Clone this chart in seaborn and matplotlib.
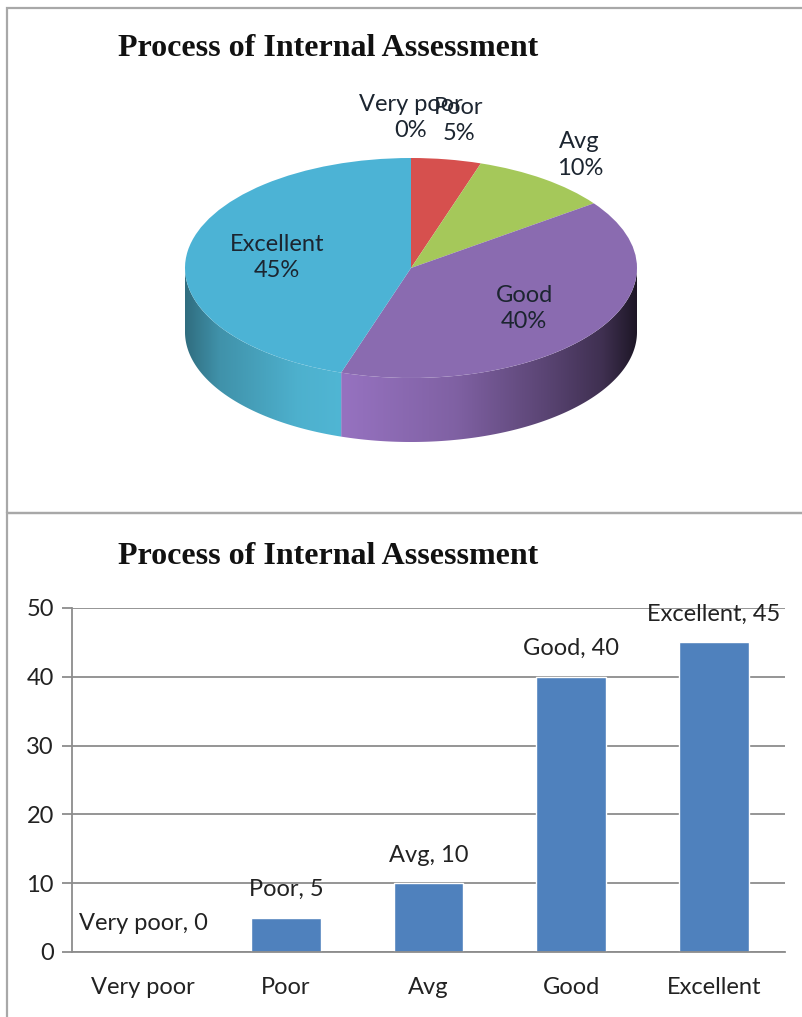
import numpy as np
import matplotlib
matplotlib.use("Agg")
import matplotlib.pyplot as plt
import seaborn as sns
from matplotlib.patches import Polygon, Rectangle

# data
categories = ["Very poor", "Poor", "Avg", "Good", "Excellent"]
values = [0, 5, 10, 40, 45]
pie_colors = ["#4F81BD", "#D6504E", "#A5C85A", "#8A6BB0", "#4CB3D5"]
wall_colors = ["#4F81BD", "#C04A48", "#94B552", "#9672C0", "#50B6D4"]
bar_color = "#4F81BD"
title = "Process of Internal Assessment"

sns.set_style("white")
plt.rcParams["font.family"] = ["Lato", "DejaVu Sans"]

W, H = 802, 1017
fig = plt.figure(figsize=(W / 100, H / 100), dpi=100)


def px_axes(x0, y0, x1, y1):
    return fig.add_axes([x0 / W, 1 - y1 / H, (x1 - x0) / W, (y1 - y0) / H])


# panel frames
fig.add_artist(Rectangle((7 / W, 1 - 513 / H), 1.2, (513 - 8) / H, transform=fig.transFigure,
                         fill=False, edgecolor="#a8a8a8", lw=1.6))
fig.add_artist(Rectangle((7 / W, -0.2), 1.2, 0.2 + (H - 513) / H, transform=fig.transFigure,
                         fill=False, edgecolor="#a8a8a8", lw=1.6))

for ty in (56, 564):
    fig.text(118 / W, 1 - ty / H, title, family="Liberation Serif", weight="bold",
             fontsize=23, va="baseline", ha="left", color="#111111")

# ---- pie (fake 3D) ----
ax1 = px_axes(150, 80, 680, 480)
cx, cy, rx, ry = 411, 268, 226, 110
xlim = ((150 - cx) / rx, (680 - cx) / rx)
ylim = ((cy - 480) / ry, (cy - 80) / ry)
depth = 64 / ry

wedges, _ = ax1.pie(values, colors=pie_colors, startangle=90, counterclock=False,
                    radius=1, wedgeprops=dict(linewidth=0, zorder=3))
ax1.set_aspect("auto")
ax1.axis("off")

# lighting across the side wall
sx = [-1, -0.85, -0.5, -0.3, 0.2, 0.6, 0.85, 1.0]
sv = [0.6, 0.8, 0.97, 1.0, 0.85, 0.6, 0.42, 0.2]
gx = np.linspace(-1, 1, 400)
shade = np.interp(gx, sx, sv)

for w, wc, v in zip(wedges, wall_colors, values):
    if v == 0:
        continue
    t = np.radians(np.linspace(w.theta1, w.theta2, 400))
    t = t[np.sin(t) <= 0]
    if len(t) < 2:
        continue
    top = np.column_stack([np.cos(t), np.sin(t)])
    bot = top[::-1] - [0, depth]
    poly = Polygon(np.vstack([top, bot]), closed=True, facecolor="none", edgecolor="none")
    ax1.add_patch(poly)
    base = np.array(matplotlib.colors.to_rgb(wc))
    img = np.clip(shade[:, None] * base[None, :], 0, 1)[None, :, :]
    im = ax1.imshow(img, extent=[-1, 1, -1 - depth, 0.05], aspect="auto", zorder=1)
    im.set_clip_path(poly)

ax1.set_xlim(*xlim)
ax1.set_ylim(*ylim)

label_r = [1.37, 1.36, 1.27, 0.62, 0.6]
total = sum(values)
for w, c, v, r in zip(wedges, categories, values, label_r):
    mid = np.radians((w.theta1 + w.theta2) / 2)
    ax1.text(r * np.cos(mid), r * np.sin(mid), f"{c}\n{v / total:.0%}", ha="center", va="center",
             fontsize=17, linespacing=1.3, color="#1c2530", zorder=5)

# ---- bar chart ----
ax2 = px_axes(72, 608, 785, 952)
sns.barplot(x=categories, y=values, color=bar_color, saturation=1, width=0.49, ax=ax2)
ax2.set_ylim(0, 50)
ax2.set_xlim(-0.5, len(categories) - 0.5)
ax2.set_yticks(range(0, 51, 10))
ax2.yaxis.grid(True, color="#8c8c8c", lw=1.3)
ax2.set_axisbelow(True)
for s in ("top", "right"):
    ax2.spines[s].set_visible(False)
for s in ("left", "bottom"):
    ax2.spines[s].set_color("#8c8c8c")
    ax2.spines[s].set_linewidth(1.3)
ax2.set_xlabel("")
ax2.set_ylabel("")
ax2.set_xticks(np.arange(-0.5, len(categories)), minor=True)
ax2.tick_params(axis="x", which="major", length=0, pad=18, labelsize=17, labelcolor="#222222")
ax2.tick_params(axis="x", which="minor", length=7.5, width=1.3, color="#8c8c8c", direction="out")
ax2.tick_params(axis="y", length=7, width=1.3, color="#8c8c8c", pad=6, labelsize=17,
                labelcolor="#222222", left=True)

for i, (c, v) in enumerate(zip(categories, values)):
    ax2.annotate(f"{c}, {v}", xy=(i, v), xytext=(0, 15.5), textcoords="offset points",
                 ha="center", va="baseline", fontsize=17, color="#222222")

fig.savefig("out.png", dpi=100)
